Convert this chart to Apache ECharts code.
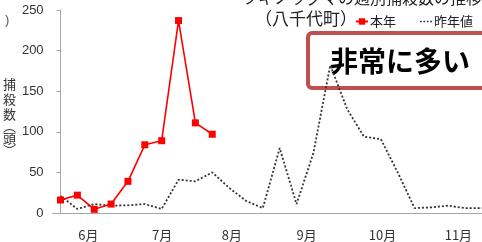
<!DOCTYPE html>
<html>
<head>
<meta charset="utf-8">
<script src="https://cdn.jsdelivr.net/npm/echarts@6/dist/echarts.min.js"></script>
<style>
  html, body { margin: 0; padding: 0; background: #fff; }
  #chart { width: 482px; height: 242px; }
</style>
</head>
<body>
<div id="chart"></div>
<script>
// weekly points, index 0 = first week shown
var thisYear = [16, 22, 4.5, 11, 39, 84, 89, 237, 111, 97];
var lastYear = [21, 5, 11, 9, 9.5, 11, 5, 41, 39, 50, 31, 15, 6, 80, 11, 74, 182, 128, 94, 91, 50, 6, 7, 9, 6, 6];
// month labels sit between weekly points
var monthPos = [1.65, 6.03, 10.17, 14.6, 19.1, 23.6];
var monthLabels = ['6月', '7月', '8月', '9月', '10月', '11月'];

var jp = '"Noto Sans CJK JP", sans-serif';
var num = '"Liberation Sans", Arial, sans-serif';

function toPairs(arr) {
    return arr.map(function (v, i) { return [i, v]; });
}

var chart = echarts.init(document.getElementById('chart'));

var option = {
    animation: false,
    grid: { left: 51, right: 0, top: 10, bottom: 29 },
    title: [
        {
            text: 'ツキノワグマの週別捕殺数の推移',
            left: 237, top: -15,
            textStyle: { fontFamily: jp, fontSize: 16, fontWeight: 'normal', color: '#222' }
        },
        {
            text: '（八千代町）',
            left: 250, top: 5,
            textStyle: { fontFamily: jp, fontSize: 17, fontWeight: 'normal', color: '#222' }
        },
        {
            text: ')',
            left: 0, top: 9,
            textStyle: { fontFamily: num, fontSize: 13, fontWeight: 'normal', color: '#555' }
        }
    ],
    legend: {
        left: 350, top: 10,
        itemWidth: 12, itemHeight: 8, itemGap: 24,
        textStyle: { fontFamily: jp, fontSize: 13, color: '#222', padding: [0, 0, 0, -3] },
        data: [
            { name: '本年' },
            {
                name: '昨年値',
                icon: 'path://M0,0h2v2h-2zM4,0h2v2h-2zM8,0h2v2h-2zM12,0h2v2h-2z',
                itemStyle: { color: '#333' }
            }
        ]
    },
    xAxis: {
        type: 'value',
        min: -0.47, max: 25,
        splitLine: { show: false },
        axisLine: { show: true, lineStyle: { color: '#a6a6a6', width: 1 } },
        axisTick: { show: false },
        axisLabel: {
            customValues: monthPos,
            margin: 16,
            fontFamily: jp, fontSize: 13, color: '#333',
            formatter: function (v) {
                var i = monthPos.indexOf(v);
                return i >= 0 ? monthLabels[i] : '';
            }
        }
    },
    yAxis: {
        type: 'value',
        min: 0, max: 250, interval: 50,
        splitLine: { show: false },
        axisLine: { show: true, lineStyle: { color: '#a6a6a6', width: 1 } },
        axisTick: { show: true, length: 4, lineStyle: { color: '#a6a6a6' } },
        axisLabel: { fontFamily: num, fontSize: 13, color: '#333', margin: 9 },
        name: '捕\n殺\n数\n{p|︵}\n頭\n{p|︶}',
        nameLocation: 'middle',
        nameRotate: 0,
        nameGap: 32,
        nameTextStyle: {
            fontFamily: jp, fontSize: 13, color: '#333', lineHeight: 15,
            padding: [8, 0, 0, 0],
            rich: { p: { fontFamily: jp, fontSize: 13, lineHeight: 9, color: '#333' } }
        }
    },
    series: [
        {
            name: '本年',
            type: 'line',
            data: toPairs(thisYear),
            symbol: 'rect',
            symbolSize: 7,
            lineStyle: { color: '#ff0000', width: 1.6 },
            itemStyle: { color: '#ff0000' },
            z: 3
        },
        {
            name: '昨年値',
            type: 'line',
            data: toPairs(lastYear),
            showSymbol: false,
            symbol: 'none',
            lineStyle: { color: '#333', width: 1.8, type: [2, 2] },
            itemStyle: { color: '#333' },
            z: 2
        }
    ],
    graphic: [
        {
            type: 'group', z: 100,
            children: [
                {
                    type: 'rect',
                    shape: { x: 308, y: 33, width: 400, height: 55, r: 4 },
                    style: { fill: '#fff', stroke: '#c0504d', lineWidth: 4 }
                },
                {
                    type: 'text',
                    x: 400, y: 61,
                    style: {
                        text: '非常に多い',
                        font: 'bold 28px "Noto Sans CJK JP"',
                        fill: '#000',
                        textAlign: 'center',
                        textVerticalAlign: 'middle'
                    }
                }
            ]
        }
    ]
};

chart.setOption(option);
</script>
</body>
</html>
